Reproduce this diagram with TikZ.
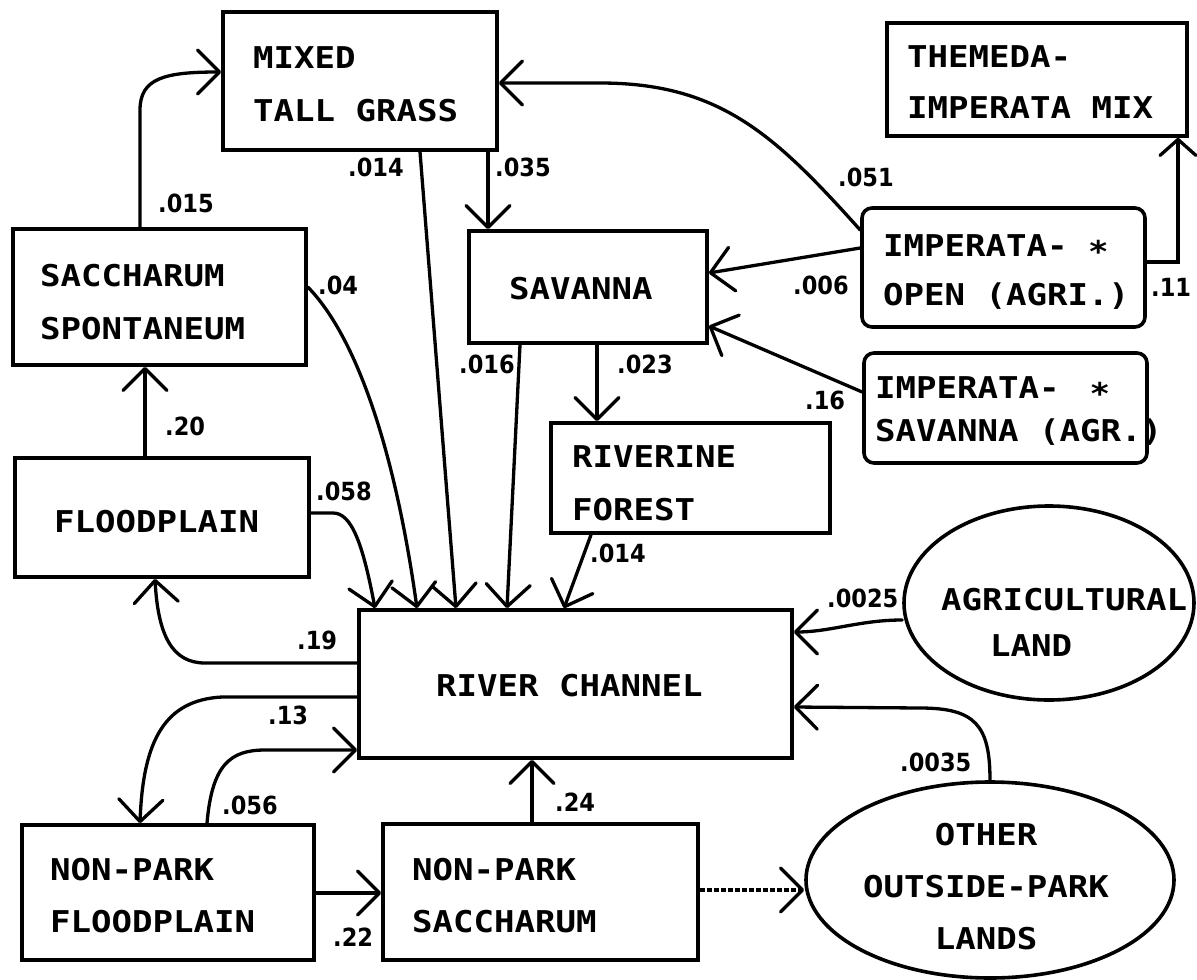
\documentclass[tikz,border=0pt]{standalone}
\usepackage{fontspec}
\usetikzlibrary{arrows.meta,shapes.geometric}
\newfontfamily\boxfont{DejaVu Sans Mono}[FakeStretch=1.135]
\newfontfamily\labfont{DejaVu Sans}[FakeStretch=0.9]
\begin{document}
\begin{tikzpicture}[x=1pt,y=-1pt,
  box/.style={draw, line width=3.6pt, rectangle, inner sep=0pt},
  rbox/.style={box, rounded corners=10pt},
  oval/.style={draw, line width=3.6pt, ellipse, inner sep=0pt},
  txt/.style={anchor=west, inner sep=0pt, align=left, font=\boxfont\bfseries\fontsize{30pt}{#1}\selectfont},
  txt/.default=52pt,
  lab/.style={anchor=west, inner sep=0pt, font=\labfont\bfseries\fontsize{25pt}{30pt}\selectfont},
  conn/.style={line width=3.3pt, line cap=round, -{Straight Barb[length=22pt,width=44pt,round]}},
]
\useasboundingbox (0,0) rectangle (1197,980);

% boxes
\node[box, minimum width=274pt, minimum height=138pt] (mixed) at (360,81) {};
\node[box, minimum width=300pt, minimum height=113pt] (themeda) at (1037,79.5) {};
\node[box, minimum width=293pt, minimum height=136pt] (sacch) at (159.5,297) {};
\node[box, minimum width=238pt, minimum height=112pt] (savanna) at (588,287) {};
\node[rbox, minimum width=283pt, minimum height=119pt] (impopen) at (1003.5,267.5) {};
\node[rbox, minimum width=283pt, minimum height=110pt] (impsav) at (1005.5,408) {};
\node[box, minimum width=279pt, minimum height=110pt] (riverine) at (690.5,478) {};
\node[box, minimum width=294pt, minimum height=119pt] (flood) at (162,517.5) {};
\node[box, minimum width=433pt, minimum height=148pt] (river) at (575.5,684) {};
\node[box, minimum width=292pt, minimum height=135pt] (npflood) at (168,892.5) {};
\node[box, minimum width=315pt, minimum height=136pt] (npsacch) at (540.5,892) {};
\node[oval, minimum width=290pt, minimum height=194pt] (agri) at (1049,603) {};
\node[oval, minimum width=368pt, minimum height=196pt] (other) at (990,880) {};

% texts
\node[txt=53pt] (mixed-t) at (253,84.5) {MIXED\\TALL GRASS};
\node[txt=51pt] (themeda-t) at (907,82.5) {THEMEDA-\\IMPERATA MIX};
\node[txt=53pt] (sacch-t) at (40,302.5) {SACCHARUM\\SPONTANEUM};
\node[txt] (savanna-t) at (509,289) {SAVANNA};
\node[txt=49pt] (impopen-t) at (883,272.5) {IMPERATA- ∗\\OPEN (AGRI.)};
\node[txt=43pt] (impsav-t) at (875,411.5) {IMPERATA-\hspace{30pt}∗\\SAVANNA (AGR.)};
\node[txt=53pt] (riverine-t) at (572,483.5) {RIVERINE\\FOREST};
\node[txt] (flood-t) at (54,522) {FLOODPLAIN};
\node[txt] (river-t) at (436,686) {RIVER CHANNEL};
\node[txt] (npflood-t) at (50,896) {NON-PARK\\FLOODPLAIN};
\node[txt] (npsacch-t) at (412,896) {NON-PARK\\SACCHARUM};
\node[txt=46pt] (agri-t) at (941,622) {AGRICULTURAL\\\hspace*{49pt}LAND};
\node[txt, anchor=center, align=center] (other-t) at (986,887) {OTHER\\OUTSIDE-PARK\\LANDS};

% connectors
\draw[conn] (140,0 |- sacch.north) -- (140,110) .. controls (140,78) and (165,72) .. (mixed.west |- 0,72);
\draw[conn] (impopen.west |- 0,230) .. controls (775,135) and (720,83) .. (600,83) -- (mixed.east |- 0,83);
\draw[conn] (488,0 |- mixed.south) -- (488,0 |- savanna.north);
\draw[conn] (420,0 |- mixed.south) -- (456,0 |- river.north);
\draw[conn] (sacch.east |- 0,287) .. controls (350,330) and (392,430) .. (417,0 |- river.north);
\draw[conn] (520,0 |- savanna.south) -- (507,0 |- river.north);
\draw[conn] (597,0 |- savanna.south) -- (597,0 |- riverine.north);
\draw[conn] (impopen.west |- 0,248) -- (savanna.east |- 0,273);
\draw[conn] (impsav.west |- 0,392) -- (savanna.east |- 0,326);
\draw[conn, -{Straight Barb[length=16pt,width=36pt,round]}] (impopen.east |- 0,262) -- (1178,262) -- (1178,0 |- themeda.south);
\draw[conn] (145,0 |- flood.north) -- (145,0 |- sacch.south);
\draw[conn] (flood.east |- 0,513) -- (333,513) .. controls (352,513) and (363,545) .. (375,0 |- river.north);
\draw[conn] (591,0 |- riverine.south) -- (564,0 |- river.north);
\draw[conn] (river.west |- 0,663) -- (205,663) .. controls (172,663) and (158,635) .. (155,0 |- flood.south);
\draw[conn] (river.west |- 0,697) -- (222,697) .. controls (165,700) and (143,740) .. (140,0 |- npflood.north);
\draw[conn] (207,0 |- npflood.north) .. controls (212,765) and (230,750) .. (265,750) -- (river.west |- 0,750);
\draw[conn] (532,0 |- npsacch.north) -- (532,0 |- river.south);
\draw[conn] (npflood.east |- 0,893) -- (npsacch.west |- 0,893);
\draw[conn, line cap=butt, dash pattern=on 5pt off 2pt] (npsacch.east |- 0,890) -- (other.west |- 0,890);
\draw[conn] (agri.west |- 0,620) .. controls (860,620) and (830,632) .. (river.east |- 0,632);
\draw[conn] (other.north) .. controls (990,725) and (975,708) .. (920,708) -- (river.east |- 0,707);

% labels
\node[lab] (l1) at (158,203) {.015};
\node[lab] (l2) at (348,167) {.014};
\node[lab] (l3) at (495,167) {.035};
\node[lab] (l4) at (838,177) {.051};
\node[lab] (l5) at (318,285) {.04};
\node[lab] (l6) at (793,285) {.006};
\node[lab] (l7) at (1151,287) {.11};
\node[lab] (l8) at (459,364) {.016};
\node[lab] (l9) at (617,364) {.023};
\node[lab] (l10) at (805,400) {.16};
\node[lab] (l11) at (165,426) {.20};
\node[lab] (l12) at (316,491) {.058};
\node[lab] (l13) at (590,553) {.014};
\node[lab] (l14) at (827,598) {.0025};
\node[lab] (l15) at (297,640) {.19};
\node[lab] (l16) at (268,715) {.13};
\node[lab] (l17) at (222,805) {.056};
\node[lab] (l18) at (555,802) {.24};
\node[lab] (l19) at (333,937) {.22};
\node[lab] (l20) at (900,762) {.0035};
\end{tikzpicture}
\end{document}
